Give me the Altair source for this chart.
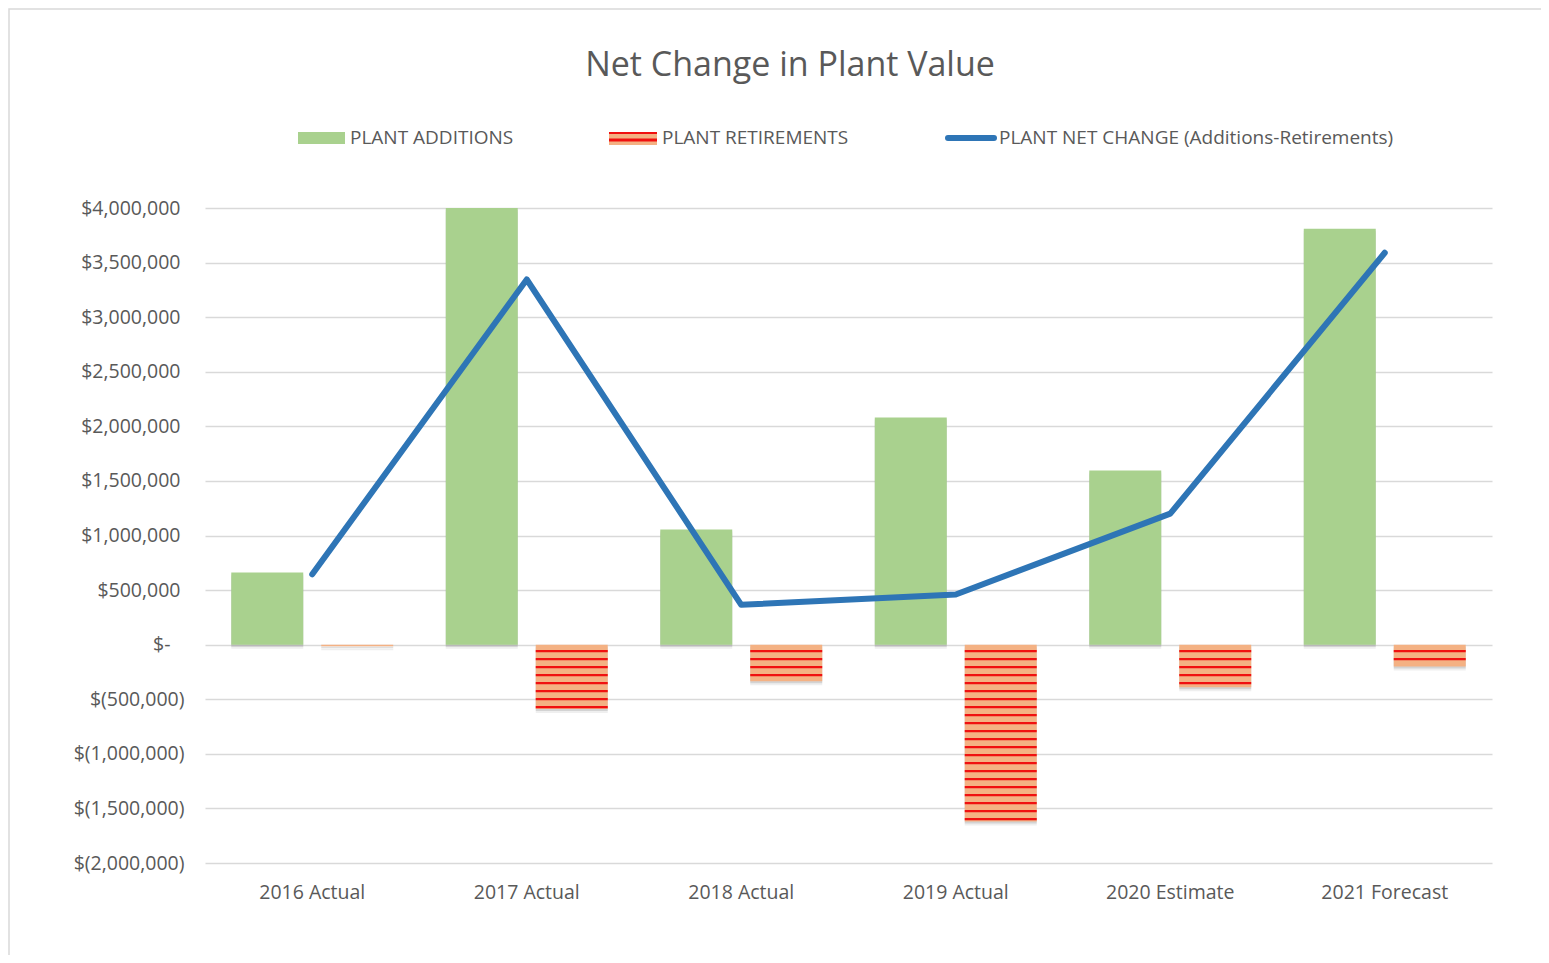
import altair as alt
import pandas as pd

# ---- data ----
categories = ["2016 Actual", "2017 Actual", "2018 Actual", "2019 Actual", "2020 Estimate", "2021 Forecast"]
additions = [660000, 4000000, 1055000, 2080000, 1595000, 3810000]
retirements = [-15000, -590000, -335000, -1620000, -390000, -200000]
net_change = [645000, 3345000, 365000, 460000, 1200000, 3590000]

series_names = ["PLANT ADDITIONS", "PLANT RETIREMENTS"]
legend_labels = ["PLANT ADDITIONS", "PLANT RETIREMENTS", "PLANT NET CHANGE (Additions-Retirements)"]
title_text = ["Net Change in Plant Value"]
y_ticks = [-2000000, -1500000, -1000000, -500000, 0, 500000, 1000000, 1500000, 2000000, 2500000, 3000000, 3500000, 4000000]

GREEN = "#A9D18E"
SALMON = "#F4B183"
RED = "#F01010"
BLUE = "#2E75B6"
TEXT = "#595959"
GRID = "#D9D9D9"
FONT = "Open Sans"

# ---- tables built from the arrays ----
bars = pd.DataFrame({
    "category": categories * 2,
    "series": [series_names[0]] * len(categories) + [series_names[1]] * len(categories),
    "value": additions + retirements,
})
line_df = pd.DataFrame({"category": categories, "net": net_change})

# hatch lines inside the retirement bars (derived from the retirement values)
step = 73300.0
thick = 20000.0
rows = []
for c, r in zip(categories, retirements):
    k = 0
    while True:
        centre = -(k + 0.8) * step
        if centre - thick / 2 < r:
            break
        rows.append({"category": c, "series": series_names[1],
                     "s_top": centre + thick / 2, "s_bot": centre - thick / 2})
        k += 1
stripes = pd.DataFrame(rows)

x_enc = alt.X("category:N", sort=categories, title=None,
              scale=alt.Scale(paddingInner=0.245, paddingOuter=0.1225),
              axis=alt.Axis(labelAngle=0, labelFontSize=19.5, labelColor=TEXT, labelFont=FONT,
                            ticks=False, domain=False, labelPadding=20, grid=False))
xo_enc = alt.XOffset("series:N", sort=series_names,
                     scale=alt.Scale(domain=series_names, paddingInner=0.2, paddingOuter=0))
y_scale = alt.Scale(domain=[-2000000, 4000000], nice=False)

label_expr = ("datum.value > 0 ? '$' + format(datum.value, ',') : "
              "(datum.value < 0 ? '$(' + format(-datum.value, ',') + ')' : '$-')")

y_axis = alt.Axis(values=y_ticks, labelExpr=label_expr, labelFontSize=19.5, labelColor=TEXT,
                  labelFont=FONT, ticks=False, domain=False, gridColor=GRID, gridWidth=1.4,
                  labelPadding={"expr": "datum.value > 0 ? 25 : (datum.value < 0 ? 21 : 35)"},
                  title=None)

base = alt.Chart(bars)

shadow1 = base.mark_bar(color="#7F7F7F", opacity=0.12, xOffset=5, yOffset=4).encode(
    x=x_enc, xOffset=xo_enc, y=alt.Y("value:Q", scale=y_scale, axis=y_axis))
shadow2 = base.mark_bar(color="#7F7F7F", opacity=0.25, xOffset=3, yOffset=2).encode(
    x=x_enc, xOffset=xo_enc, y=alt.Y("value:Q", scale=y_scale))

bar_layer = base.mark_bar().encode(
    x=x_enc, xOffset=xo_enc,
    y=alt.Y("value:Q", scale=y_scale),
    color=alt.Color("series:N", scale=alt.Scale(domain=series_names, range=[GREEN, SALMON]), legend=None),
)

stripe_layer = alt.Chart(stripes).mark_bar(color=RED).encode(
    x=x_enc, xOffset=xo_enc,
    y=alt.Y("s_top:Q", scale=y_scale), y2="s_bot:Q",
)

line_layer = alt.Chart(line_df).mark_line(color=BLUE, strokeWidth=6, strokeCap="round",
                                          strokeJoin="round").encode(
    x=x_enc, y=alt.Y("net:Q", scale=y_scale))

one = pd.DataFrame({"k": [0]})

border = alt.Chart(one).mark_rect(fill="transparent", stroke=GRID, strokeWidth=1.5).encode(
    x=alt.value(-196), x2=alt.value(1500), y=alt.value(-199), y2=alt.value(900))

title = alt.Chart(pd.DataFrame({"t": title_text})).mark_text(
    font=FONT, fontSize=34, color=TEXT, align="center", baseline="middle").encode(
    text="t:N", x=alt.value(585), y=alt.value(-142))

leg_green = alt.Chart(one).mark_rect(color=GREEN).encode(
    x=alt.value(93), x2=alt.value(140), y=alt.value(-76), y2=alt.value(-64))
leg_salmon = alt.Chart(one).mark_rect(color=SALMON).encode(
    x=alt.value(404), x2=alt.value(452), y=alt.value(-76), y2=alt.value(-63))
leg_red1 = alt.Chart(one).mark_rule(color=RED, strokeWidth=2).encode(
    x=alt.value(404), x2=alt.value(452), y=alt.value(-75))
leg_red2 = alt.Chart(one).mark_rule(color=RED, strokeWidth=3).encode(
    x=alt.value(404), x2=alt.value(452), y=alt.value(-68))
leg_blue = alt.Chart(one).mark_rule(color=BLUE, strokeWidth=6, strokeCap="round").encode(
    x=alt.value(743), x2=alt.value(789), y=alt.value(-70))

def leg_text(i, xpos):
    return alt.Chart(pd.DataFrame({"t": [legend_labels[i]]})).mark_text(
        font=FONT, fontSize=19, color=TEXT, align="left", baseline="middle").encode(
        text="t:N", x=alt.value(xpos), y=alt.value(-70))

chart = alt.layer(
    border, shadow1, shadow2, bar_layer, stripe_layer, line_layer,
    title, leg_green, leg_salmon, leg_red1, leg_red2, leg_blue,
    leg_text(0, 145), leg_text(1, 457), leg_text(2, 794),
).properties(
    width=1287, height=655,
    padding={"left": 197, "top": 200, "right": 49, "bottom": 92},
    autosize=alt.AutoSizeParams(type="none"),
).configure(font=FONT, background="white").configure_view(strokeWidth=0, stroke="transparent")

chart.save("out.html", embed_options={"renderer": "svg", "actions": False})
